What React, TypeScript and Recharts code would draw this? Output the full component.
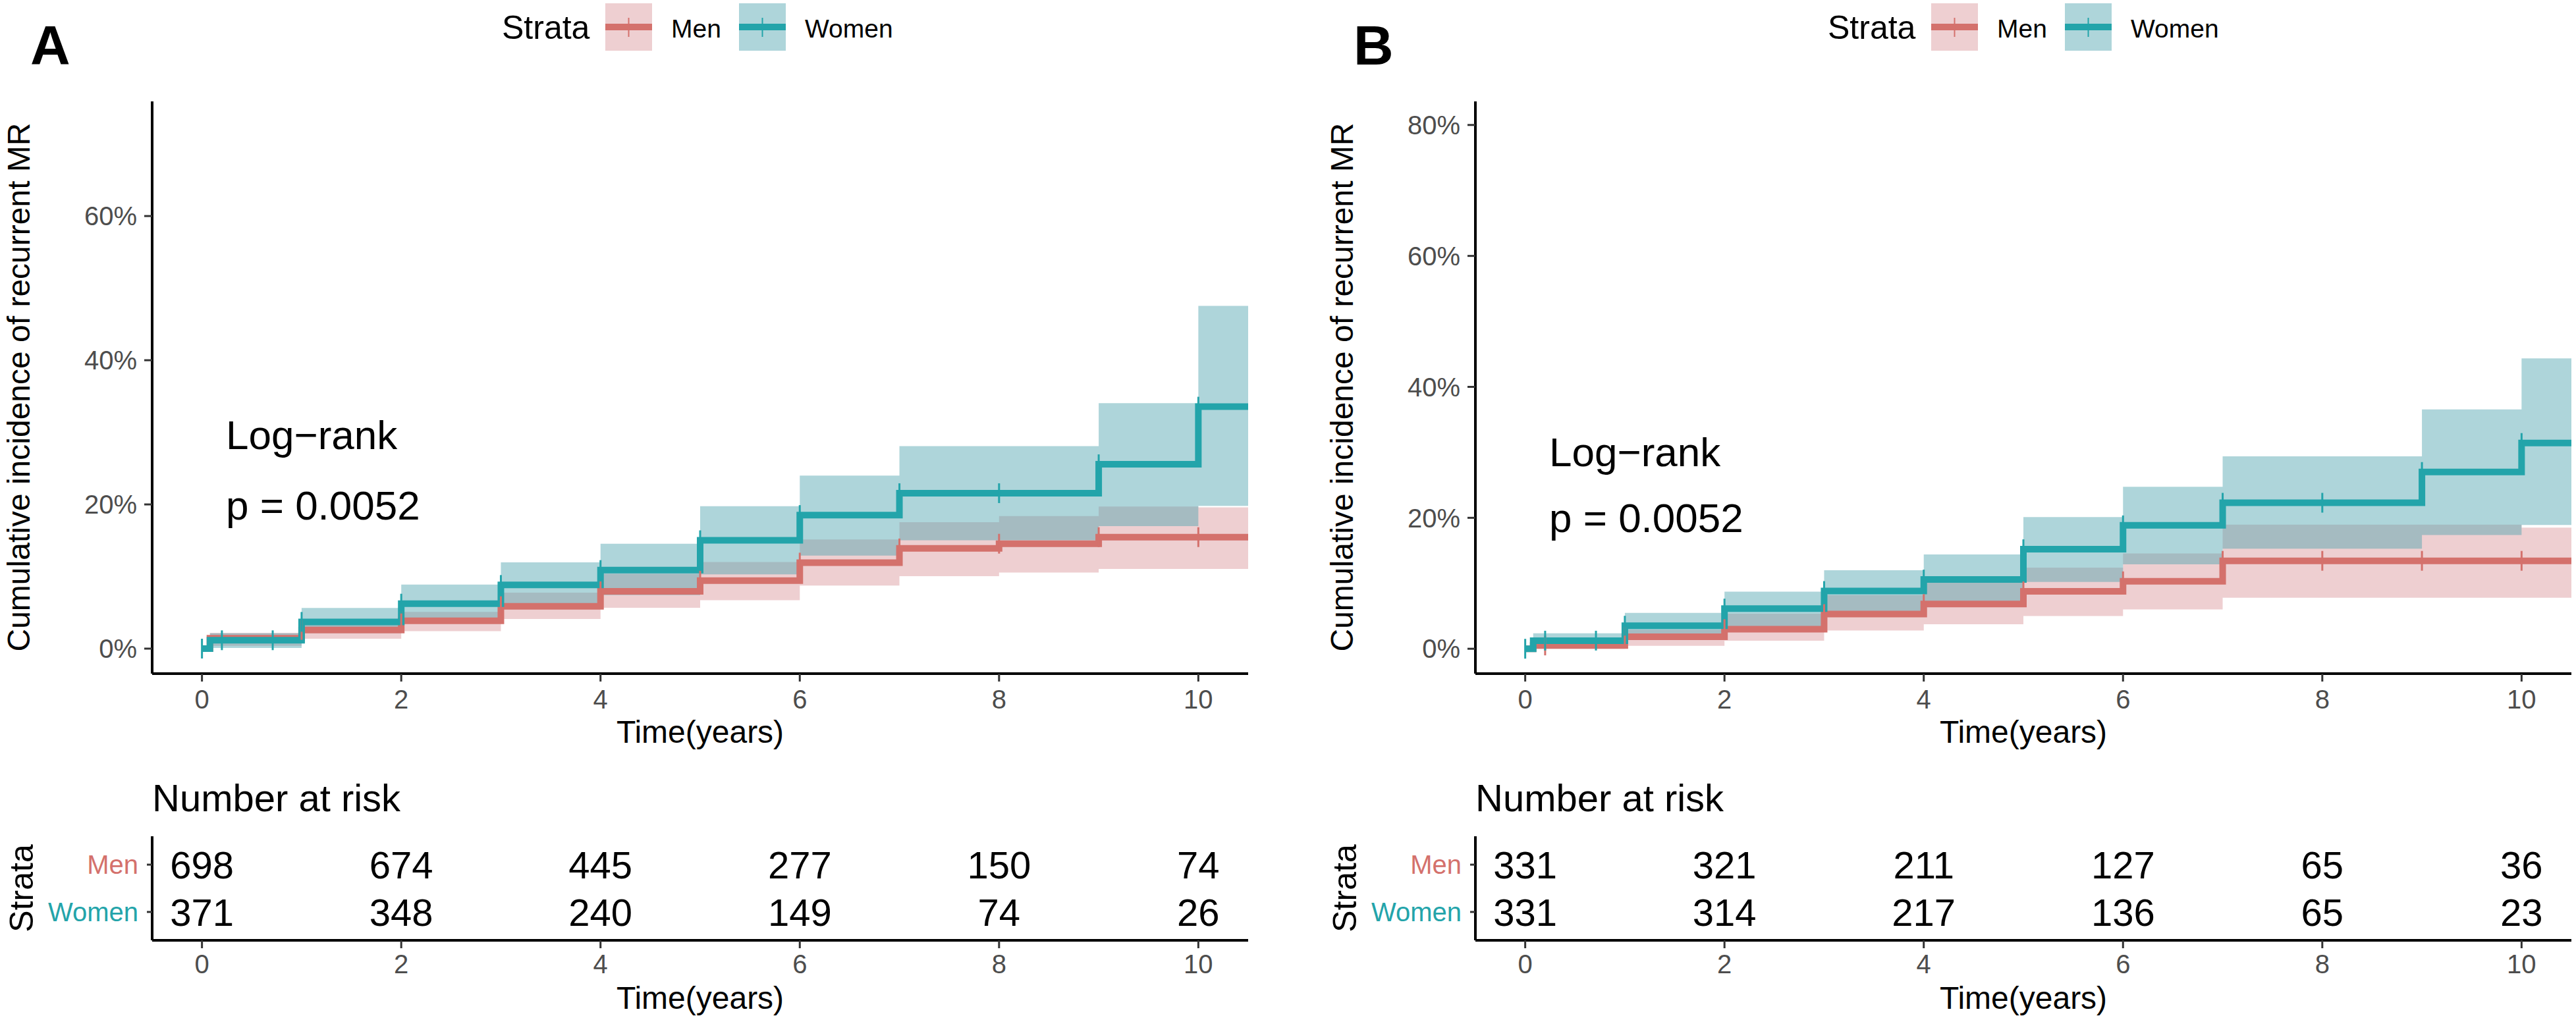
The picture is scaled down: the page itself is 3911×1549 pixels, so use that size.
import React from "react";
import {
  ComposedChart,
  ScatterChart,
  Line,
  Area,
  Scatter,
  XAxis,
  YAxis,
} from "recharts";

if (typeof document !== "undefined") document.body.style.margin = "0";

const FONT = "'Liberation Sans', Arial, Helvetica, sans-serif";
const RED = "#D4716C";
const TEAL = "#23A4AA";
const RED_BAND = "#D9949A";
const TEAL_BAND = "#4BA2AD";
const BAND_OPACITY = 0.45;
const TICK_GREY = "#4D4D4D";

// step times (years), shared by both panels
const times = [0, 0.08, 1, 2, 3, 4, 5, 6, 7, 8, 9, 10, 10.5];

// Panel A, cumulative incidence in %
const womenA = [0, 1.16, 3.71, 6.24, 8.83, 10.9, 15.03, 18.53, 21.56, 21.56, 25.57, 33.56, 33.56];
const womenALow = [0, 0.1, 2.17, 3.5, 5.5, 7.42, 10.3, 12.9, 15.03, 15.03, 17.0, 19.8, 19.8];
const womenAHigh = [0, 2.13, 5.63, 8.89, 11.96, 14.55, 19.76, 24.0, 28.08, 28.08, 34.05, 47.55, 47.55];
const menA = [0, 1.45, 2.59, 3.85, 5.88, 7.95, 9.42, 11.93, 13.9, 14.55, 15.46, 15.46, 15.46];
const menALow = [0, 0.4, 1.37, 2.42, 4.1, 5.67, 6.72, 8.74, 10.04, 10.54, 11.06, 11.06, 11.06];
const menAHigh = [0, 2.2, 3.3, 5.1, 7.77, 10.4, 12.0, 15.13, 17.54, 18.39, 19.7, 19.6, 19.6];

// Panel B
const womenB = [0, 1.24, 3.52, 6.14, 8.82, 10.57, 15.2, 18.85, 22.3, 22.3, 27.0, 31.43, 31.43];
const womenBLow = [0, 0.1, 1.44, 3.35, 5.0, 6.44, 10.2, 12.9, 15.28, 15.28, 17.38, 18.9, 18.9];
const womenBHigh = [0, 2.35, 5.47, 8.72, 12.0, 14.4, 20.1, 24.75, 29.4, 29.4, 36.56, 44.35, 44.35];
const menB = [0, 0.5, 1.84, 3.0, 5.3, 6.83, 8.77, 10.3, 13.43, 13.43, 13.43, 13.43, 13.43];
const menBLow = [0, 0, 0.44, 1.24, 2.78, 3.74, 5.0, 6.0, 7.8, 7.8, 7.8, 7.8, 7.8];
const menBHigh = [0, 1.2, 2.92, 5.36, 8.2, 10.1, 12.4, 14.55, 18.95, 18.95, 18.95, 18.5, 18.5];

// censoring marks
const censorWomen = [0, 0.2, 0.71, 1, 2, 3, 4, 5, 6, 7, 8, 9, 10];
const censorMenA = [1, 2, 3, 4, 5, 6, 7, 8, 9, 10];
const censorMenB = [0.2, 1, 2, 3, 4, 5, 6, 7, 8, 9, 10];

const timeTicks = [0, 2, 4, 6, 8, 10];
const yTicksA = [0, 0.2, 0.4, 0.6];
const yTicksB = [0, 0.2, 0.4, 0.6, 0.8];

// number at risk
const riskTimes = [0, 2, 4, 6, 8, 10];
const riskMenA = [698, 674, 445, 277, 150, 74];
const riskWomenA = [371, 348, 240, 149, 74, 26];
const riskMenB = [331, 321, 211, 127, 65, 36];
const riskWomenB = [331, 314, 217, 136, 65, 23];

const stepAt = (vals: number[], t: number) => {
  let v = vals[0];
  times.forEach((tt, i) => {
    if (tt <= t) v = vals[i];
  });
  return v / 100;
};

const censorTick = (color: string) => (p: any) => (
  <line x1={p.cx} x2={p.cx} y1={p.cy - 15} y2={p.cy + 15} stroke={color} strokeWidth={3} />
);

const riskText = (p: any) => (
  <text
    x={p.cx}
    y={p.cy}
    dy="0.36em"
    textAnchor="middle"
    fontSize={58}
    fontFamily={FONT}
    fill="#000"
  >
    {p.payload.n}
  </text>
);

const strataTick = (p: any) => {
  const isMen = p.payload.value === 2;
  return (
    <text
      x={p.x}
      y={p.y}
      dy="0.36em"
      textAnchor="end"
      fontSize={40}
      fontFamily={FONT}
      fill={isMen ? RED : TEAL}
    >
      {isMen ? "Men" : "Women"}
    </text>
  );
};

type PanelProps = {
  left: number;
  width: number;
  women: number[];
  womenLow: number[];
  womenHigh: number[];
  men: number[];
  menLow: number[];
  menHigh: number[];
  censorMen: number[];
  yDomain: [number, number];
  yTicks: number[];
  riskMen: number[];
  riskWomen: number[];
};

function Panel(props: PanelProps) {
  const rows = times.map((t, i) => ({
    t,
    w: props.women[i] / 100,
    wBand: [props.womenLow[i] / 100, props.womenHigh[i] / 100],
    m: props.men[i] / 100,
    mBand: [props.menLow[i] / 100, props.menHigh[i] / 100],
  }));
  const wCens = censorWomen.map((t) => ({ t, v: stepAt(props.women, t) }));
  const mCens = props.censorMen.map((t) => ({ t, v: stepAt(props.men, t) }));
  const menRows = riskTimes.map((t, i) => ({ t, row: 2, n: props.riskMen[i] }));
  const womenRows = riskTimes.map((t, i) => ({ t, row: 1, n: props.riskWomen[i] }));

  const axisLine = { stroke: "#000", strokeWidth: 4 };
  const tickLine = { stroke: "#333", strokeWidth: 3 };
  const tickStyle = { fill: TICK_GREY, fontSize: 40, fontFamily: FONT };

  return (
    <>
      <div style={{ position: "absolute", left: props.left, top: 0 }}>
        <ComposedChart
          width={props.width}
          height={1120}
          data={rows}
          margin={{ top: 154, right: props.width - 1895, bottom: 0, left: 0 }}
        >
          <XAxis
            type="number"
            dataKey="t"
            domain={[-0.5, 10.5]}
            ticks={timeTicks}
            interval={0}
            allowDataOverflow
            height={97}
            axisLine={axisLine}
            tickLine={tickLine}
            tickSize={12}
            tickMargin={13}
            tick={tickStyle}
          />
          <YAxis
            type="number"
            domain={props.yDomain}
            ticks={props.yTicks}
            interval={0}
            allowDataOverflow
            width={231}
            axisLine={axisLine}
            tickLine={tickLine}
            tickSize={12}
            tickMargin={11}
            tick={tickStyle}
            tickFormatter={(v: number) => `${Math.round(v * 100)}%`}
          />
          <Line dataKey="m" type="stepAfter" stroke={RED} strokeWidth={10} dot={false} activeDot={false} isAnimationActive={false} />
          <Line dataKey="w" type="stepAfter" stroke={TEAL} strokeWidth={10} dot={false} activeDot={false} isAnimationActive={false} />
          <Area dataKey="mBand" type="stepAfter" stroke="none" fill={RED_BAND} fillOpacity={BAND_OPACITY} dot={false} activeDot={false} isAnimationActive={false} />
          <Area dataKey="wBand" type="stepAfter" stroke="none" fill={TEAL_BAND} fillOpacity={BAND_OPACITY} dot={false} activeDot={false} isAnimationActive={false} />
          <Scatter data={mCens} dataKey="v" shape={censorTick(RED)} isAnimationActive={false} />
          <Scatter data={wCens} dataKey="v" shape={censorTick(TEAL)} isAnimationActive={false} />
        </ComposedChart>
      </div>

      <div style={{ position: "absolute", left: props.left, top: 1200 }}>
        <ScatterChart
          width={props.width}
          height={349}
          margin={{ top: 70, right: props.width - 1895, bottom: 0, left: 0 }}
        >
          <XAxis
            type="number"
            dataKey="t"
            domain={[-0.5, 10.5]}
            ticks={timeTicks}
            interval={0}
            allowDataOverflow
            height={121}
            axisLine={axisLine}
            tickLine={tickLine}
            tickSize={12}
            tickMargin={10}
            tick={{ fill: TICK_GREY, fontSize: 40, fontFamily: FONT }}
          />
          <YAxis
            type="number"
            dataKey="row"
            domain={[0.4, 2.6]}
            ticks={[1, 2]}
            interval={0}
            allowDataOverflow
            width={231}
            axisLine={axisLine}
            tickLine={tickLine}
            tickSize={8}
            tickMargin={13}
            tick={strataTick}
          />
          <Scatter data={menRows} shape={riskText} isAnimationActive={false} />
          <Scatter data={womenRows} shape={riskText} isAnimationActive={false} />
        </ScatterChart>
      </div>
    </>
  );
}

function Legend({ x }: { x: number }) {
  return (
    <g fontFamily={FONT}>
      <text x={x} y={59} fontSize={50} fill="#000">Strata</text>
      <rect x={x + 157} y={5} width={71} height={72} fill={RED_BAND} fillOpacity={BAND_OPACITY} />
      <line x1={x + 157} x2={x + 228} y1={41} y2={41} stroke={RED} strokeWidth={10} />
      <line x1={x + 192.5} x2={x + 192.5} y1={27} y2={56} stroke={RED} strokeWidth={2} />
      <text x={x + 257} y={57} fontSize={39} fill="#000">Men</text>
      <rect x={x + 360} y={5} width={71} height={72} fill={TEAL_BAND} fillOpacity={BAND_OPACITY} />
      <line x1={x + 360} x2={x + 431} y1={41} y2={41} stroke={TEAL} strokeWidth={10} />
      <line x1={x + 395.5} x2={x + 395.5} y1={27} y2={56} stroke={TEAL} strokeWidth={2} />
      <text x={x + 460} y={57} fontSize={39} fill="#000">Women</text>
    </g>
  );
}

function Texts({ o, letter, logY, pY }: { o: number; letter: string; logY: number; pY: number }) {
  return (
    <g fontFamily={FONT} fill="#000">
      <text x={o + 46} y={98} fontSize={84} fontWeight="bold">{letter}</text>
      <text x={o + 343} y={logY} fontSize={62}>Log−rank</text>
      <text x={o + 343} y={pY} fontSize={62}>p = 0.0052</text>
      <text transform={`translate(${o + 45}, 588) rotate(-90)`} textAnchor="middle" fontSize={48}>
        Cumulative incidence of recurrent MR
      </text>
      <text x={o + 1063} y={1128} textAnchor="middle" fontSize={48}>Time(years)</text>
      <text x={o + 231} y={1232} fontSize={58}>Number at risk</text>
      <text transform={`translate(${o + 50}, 1349) rotate(-90)`} textAnchor="middle" fontSize={50}>
        Strata
      </text>
      <text x={o + 1063} y={1532} textAnchor="middle" fontSize={48}>Time(years)</text>
    </g>
  );
}

export default function App() {
  return (
    <div
      style={{
        position: "relative",
        width: 3911,
        height: 1549,
        overflow: "hidden",
        background: "#fff",
        fontFamily: FONT,
      }}
    >
      <Panel
        left={0}
        width={1911}
        women={womenA}
        womenLow={womenALow}
        womenHigh={womenAHigh}
        men={menA}
        menLow={menALow}
        menHigh={menAHigh}
        censorMen={censorMenA}
        yDomain={[-0.0347, 0.759]}
        yTicks={yTicksA}
        riskMen={riskMenA}
        riskWomen={riskWomenA}
      />
      <Panel
        left={2009}
        width={1902}
        women={womenB}
        womenLow={womenBLow}
        womenHigh={womenBHigh}
        men={menB}
        menLow={menBLow}
        menHigh={menBHigh}
        censorMen={censorMenB}
        yDomain={[-0.038, 0.836]}
        yTicks={yTicksB}
        riskMen={riskMenB}
        riskWomen={riskWomenB}
      />
      <svg
        width={3911}
        height={1549}
        style={{ position: "absolute", left: 0, top: 0, pointerEvents: "none" }}
      >
        <Legend x={762} />
        <Legend x={2775} />
        <Texts o={0} letter="A" logY={682} pY={789} />
        <Texts o={2009} letter="B" logY={708} pY={808} />
      </svg>
    </div>
  );
}
